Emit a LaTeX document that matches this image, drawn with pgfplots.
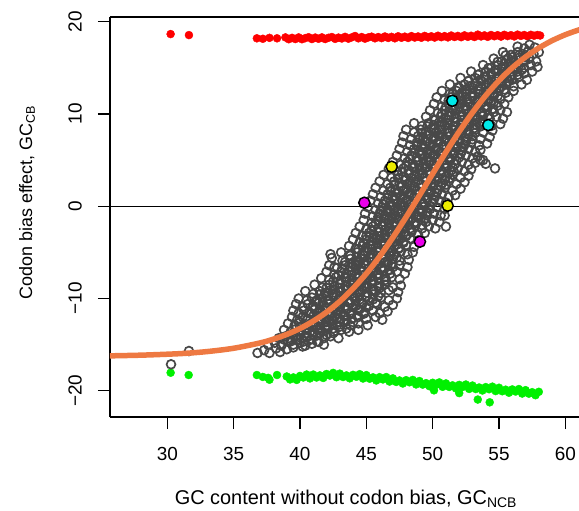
\documentclass[border=0pt]{standalone}
\usepackage{fontspec}
\setmainfont{Liberation Sans}
\usepackage{pgfplots}
\pgfplotsset{compat=1.18}

\definecolor{ptgrey}{RGB}{72,72,72}
\definecolor{curve}{RGB}{238,121,66}
\definecolor{cy}{RGB}{0,232,232}
\definecolor{ye}{RGB}{235,235,0}
\definecolor{ma}{RGB}{235,0,235}
\definecolor{rd}{RGB}{255,0,0}
\definecolor{gr}{RGB}{0,240,0}

\begin{document}
\begin{tikzpicture}
\useasboundingbox (0,0) rectangle (579bp,511bp);
\begin{axis}[
  at={(110bp,94bp)}, anchor=south west,
  scale only axis, width=469bp, height=400bp,
  xmin=25.68, xmax=61.03, ymin=-22.84, ymax=20.51,
  clip marker paths=true,
  separate axis lines,
  axis x line*=box, axis y line*=left,
  axis line style={line width=1.3bp, -},
  tick align=outside, major tick length=12bp,
  xtick pos=bottom, ytick pos=left,
  tick style={line width=1.3bp, black},
  xtick={30,35,40,45,50,55,60},
  xticklabels={30,35,40,45,50,55,60},
  ytick={-20,-10,0,10,20},
  yticklabels={−20,−10,0,10,20},
  tick label style={font=\fontsize{19}{22}\selectfont},
  yticklabel style={xshift=-16bp, rotate=90, anchor=south, inner sep=0pt},
  xticklabel style={yshift=-18bp, anchor=north, inner sep=0pt},
  xlabel={GC content without codon bias, GC\textsubscript{NCB}},
  xlabel style={font=\fontsize{20}{23}\selectfont, at={(axis description cs:0.503,-0.2175)}, anchor=base},
  ylabel={Codon bias effect, GC\textsubscript{CB}},
  ylabel style={font=\fontsize{18}{21}\selectfont, at={(axis description cs:-0.1663,0.536)}, anchor=base},
]
% zero line
\addplot[black, line width=0.9bp] coordinates {(25.68,0) (61.03,0)};

% red band (top)
\addplot[only marks, mark=*, mark size=4bp, color=rd] coordinates {
(30.25,18.66) (31.63,18.55)
(36.75,18.2) (37.2,18.15) (37.7,18.25) (38.27,18.2)
(38.9,18.3) (39.15,18.1) (39.4,18.25) (39.65,18.12) (39.9,18.3) (40.15,18.1) (40.4,18.22) (40.65,18.32)
(40.9,18.12) (41.15,18.28) (41.4,18.15) (41.65,18.3) (41.9,18.12) (42.15,18.26) (42.4,18.34) (42.65,18.14)
(42.9,18.28) (43.15,18.18) (43.4,18.36) (43.65,18.16) (43.9,18.3) (44.15,18.45) (44.4,18.2) (44.65,18.34)
(44.9,18.16) (45.15,18.3) (45.4,18.38) (45.65,18.2) (45.9,18.34) (46.15,18.22) (46.4,18.4) (46.65,18.24)
(46.9,18.36) (47.15,18.2) (47.4,18.42) (47.65,18.26) (47.9,18.38) (48.15,18.24) (48.4,18.44) (48.65,18.28)
(48.9,18.4) (49.15,18.26) (49.4,18.46) (49.65,18.3) (49.9,18.42) (50.15,18.28) (50.4,18.48) (50.65,18.32)
(50.9,18.44) (51.15,18.3) (51.4,18.5) (51.65,18.34) (51.9,18.46) (52.15,18.32) (52.4,18.52) (52.65,18.36)
(52.9,18.48) (53.15,18.34) (53.4,18.6) (53.65,18.4) (53.9,18.52) (54.15,18.36) (54.4,18.56) (54.65,18.42)
(54.9,18.54) (55.15,18.38) (55.4,18.58) (55.65,18.44) (55.9,18.54) (56.15,18.4) (56.4,18.6) (56.65,18.46)
(56.9,18.56) (57.15,18.42) (57.4,18.58) (57.65,18.48) (57.9,18.56) (58.1,18.5)
};

% green band (bottom)
\addplot[only marks, mark=*, mark size=4bp, color=gr] coordinates {
(30.25,-18.04) (31.61,-18.29)
(36.75,-18.29) (37.2,-18.5) (37.6,-18.6) (37.7,-18.8) (38.27,-18.29)
(39.0,-18.45) (39.25,-18.77) (39.5,-18.55) (39.75,-18.82) (40.0,-18.39) (40.25,-18.56) (40.5,-18.24) (40.75,-18.66)
(41.0,-18.24) (41.25,-18.56) (41.5,-18.33) (41.75,-18.61) (42.0,-18.18) (42.25,-18.35) (42.5,-18.06) (42.75,-18.53)
(43.0,-18.14) (43.25,-18.51) (43.5,-18.33) (43.75,-18.65) (44.0,-18.27) (44.25,-18.48) (44.5,-18.2) (44.75,-18.67)
(45.0,-18.3) (45.25,-18.69) (45.5,-18.54) (45.75,-18.88) (46.0,-18.52) (46.25,-18.77) (46.5,-18.51) (46.75,-19.0)
(47.0,-18.65) (47.25,-19.04) (47.5,-18.88) (47.75,-19.21) (48.0,-18.85) (48.25,-19.08) (48.5,-18.82) (48.75,-19.31)
(49.0,-18.94) (49.25,-19.33) (49.5,-19.17) (49.75,-19.5) (50.0,-19.13) (50.25,-19.36) (50.5,-19.09) (50.75,-19.57)
(51.0,-19.2) (51.25,-19.58) (51.5,-19.41) (51.75,-19.74) (52.0,-19.36) (52.25,-19.59) (52.5,-19.32) (52.75,-19.8)
(53.0,-19.43) (53.25,-19.81) (53.5,-19.64) (53.75,-19.97) (54.0,-19.6) (54.25,-19.83) (54.5,-19.55) (54.75,-20.03)
(55.0,-19.67) (55.25,-20.05) (55.5,-19.88) (55.75,-20.21) (56.0,-19.85) (56.25,-20.08) (56.5,-19.81) (56.75,-20.3)
(57.0,-19.93) (57.25,-20.31) (57.5,-20.15) (57.75,-20.48) (58.0,-20.11)
(53.4,-20.95) (54.3,-21.25) (52.0,-20.25) (50.1,-19.95)
};

% grey open circles: outer rows
\addplot[only marks, mark=o, mark size=4.4bp, color=ptgrey, mark options={line width=1.7bp}] coordinates {
(30.28,-17.13) (31.63,-15.69)
(36.8,-15.9) (37.3,-15.6) (37.7,-15.9) (38.2,-15.4) (38.5,-15.8) (39.0,-15.5) (39.5,-15.3) (40.2,-15.2)
(37.6,-15.0) (38.1,-14.8) (38.6,-15.1) (39.1,-14.7) (39.5,-15.0) (40.0,-14.8) (40.4,-15.1) (40.9,-14.9) (41.4,-14.7) (41.8,-15.0)
(38.4,-14.3) (38.9,-14.1) (39.3,-14.4) (39.7,-14.0) (40.1,-14.3) (40.5,-14.1) (40.9,-14.4) (41.3,-14.0) (41.8,-14.3) (42.3,-14.1) (42.9,-14.3)
(38.8,-13.4) (39.3,-13.6) (39.7,-13.3) (40.1,-13.6) (40.5,-13.4) (40.9,-13.7) (41.3,-13.4) (41.7,-13.6) (42.1,-13.3) (42.6,-13.6) (43.1,-13.4) (43.7,-13.6) (44.4,-13.4)
(39.1,-12.7) (39.6,-12.9) (40.0,-12.6) (40.4,-12.9) (40.8,-12.7) (41.2,-12.9) (41.6,-12.6) (42.0,-12.9) (42.4,-12.7) (42.8,-12.9) (43.3,-12.6) (43.8,-12.9) (44.4,-12.7) (45.1,-12.9)
(39.4,-12.0) (39.8,-12.3) (40.2,-12.0) (40.6,-12.2) (41.0,-11.9) (41.4,-12.2) (41.8,-12.0) (42.2,-12.3) (42.6,-12.0) (43.0,-12.2) (43.4,-11.9) (43.9,-12.2) (44.4,-12.0) (45.0,-12.2) (45.7,-12.0) (46.2,-12.3)
(39.5,-11.3) (39.9,-11.6) (40.3,-11.3) (40.7,-11.5) (41.1,-11.2) (41.5,-11.5) (41.9,-11.3) (42.3,-11.6) (42.7,-11.3) (43.1,-11.5) (43.5,-11.2) (43.9,-11.5) (44.4,-11.3) (44.9,-11.5) (45.5,-11.3) (46.0,-11.6) (46.6,-11.4)
(39.7,-10.6) (40.2,-10.9) (40.6,-10.6) (41.0,-10.8) (41.4,-10.5) (41.8,-10.8) (42.2,-10.6) (42.6,-10.9) (43.0,-10.6) (43.4,-10.8) (43.8,-10.5) (44.2,-10.8) (44.7,-10.6) (45.2,-10.8) (45.8,-10.6) (46.4,-10.9) (47.0,-10.7)
(39.9,-10.0) (40.5,-10.2) (40.9,-9.9) (41.3,-10.2) (41.7,-9.9) (42.1,-10.1) (42.5,-9.8) (42.9,-10.1) (43.3,-9.9) (43.7,-10.2) (44.1,-9.9) (44.5,-10.1) (45.0,-9.8) (45.5,-10.1) (46.1,-9.9) (46.7,-10.2) (47.3,-10.0)
(40.4,-9.2) (41.0,-9.5) (41.5,-9.2) (41.9,-9.4) (42.3,-9.1) (42.7,-9.4) (43.1,-9.2) (43.5,-9.5) (43.9,-9.2) (44.3,-9.4) (44.7,-9.1) (45.1,-9.4) (45.6,-9.2) (46.1,-9.4) (46.7,-9.1) (47.4,-9.3)
(41.1,-8.5) (41.7,-8.8) (42.2,-8.5) (42.6,-8.7) (43.0,-8.4) (43.4,-8.7) (43.8,-8.5) (44.2,-8.8) (44.6,-8.5) (45.0,-8.7) (45.4,-8.4) (45.9,-8.7) (46.4,-8.5) (47.0,-8.8) (47.6,-8.6)
(41.6,-7.8) (42.2,-8.0) (42.7,-7.7) (43.1,-8.0) (43.5,-7.8) (43.9,-8.1) (44.3,-7.8) (44.7,-8.0) (45.1,-7.7) (45.5,-8.0) (45.9,-7.8) (46.4,-8.0) (46.9,-7.7) (47.5,-7.9)
(42.0,-7.1) (42.6,-7.4) (43.1,-7.1) (43.5,-7.3) (43.9,-7.0) (44.3,-7.3) (44.7,-7.1) (45.1,-7.4) (45.5,-7.1) (45.9,-7.3) (46.3,-7.0) (46.8,-7.3) (47.3,-7.1) (47.9,-7.3)
(42.2,-6.4) (42.8,-6.7) (43.4,-6.4) (43.8,-6.6) (44.2,-6.3) (44.6,-6.6) (45.0,-6.4) (45.4,-6.7) (45.8,-6.4) (46.2,-6.6) (46.6,-6.3) (47.0,-6.6) (47.5,-6.4) (48.1,-6.6)
(42.4,-5.6) (43.2,-5.9) (43.8,-5.7) (44.2,-6.0) (44.6,-5.7) (45.0,-5.9) (45.4,-5.6) (45.8,-5.9) (46.2,-5.7) (46.6,-6.0) (47.0,-5.7) (47.5,-5.9) (48.2,-5.8)
(42.3,-5.2) (42.6,-6.6)
(43.1,-5.0) (43.7,-5.3) (44.3,-5.0) (44.7,-5.2) (45.1,-4.9) (45.5,-5.2) (45.9,-5.0) (46.3,-5.3) (46.7,-5.0) (47.1,-5.2) (47.6,-4.9) (48.1,-5.2) (48.5,-5.0)
(43.7,-4.3) (44.2,-4.6) (44.7,-4.3) (45.1,-4.5) (45.5,-4.2) (45.9,-4.5) (46.3,-4.3) (46.7,-4.6) (47.1,-4.3) (47.5,-4.5) (48.0,-4.2) (48.6,-4.4)
(44.0,-3.6) (44.5,-3.9) (45.0,-3.6) (45.4,-3.8) (45.8,-3.5) (46.2,-3.8) (46.6,-3.6) (47.0,-3.9) (47.4,-3.6) (47.8,-3.8) (48.3,-3.5) (48.9,-3.7)
(44.2,-2.9) (44.7,-3.2) (45.2,-2.9) (45.6,-3.1) (46.0,-2.8) (46.4,-3.1) (46.8,-2.9) (47.2,-3.2) (47.6,-2.9) (48.0,-3.1) (48.4,-2.8) (48.9,-3.1) (49.4,-2.9)
(44.5,-2.2) (45.0,-2.5) (45.5,-2.2) (45.9,-2.4) (46.3,-2.1) (46.7,-2.4) (47.1,-2.2) (47.5,-2.5) (47.9,-2.2) (48.3,-2.4) (48.7,-2.1) (49.2,-2.4) (49.7,-2.2) (50.2,-2.4)
(51.0,-2.2) (50.9,-1.0)
(44.8,-1.5) (45.4,-1.8) (45.9,-1.5) (46.3,-1.7) (46.7,-1.4) (47.1,-1.7) (47.5,-1.5) (47.9,-1.8) (48.3,-1.5) (48.7,-1.7) (49.1,-1.4) (49.5,-1.7) (50.0,-1.5) (50.5,-1.7)
(44.9,-0.8) (45.5,-1.1) (46.0,-0.8) (46.4,-1.0) (46.8,-0.7) (47.2,-1.0) (47.6,-0.8) (48.0,-1.1) (48.4,-0.8) (48.8,-1.0) (49.2,-0.7) (49.6,-1.0) (50.1,-0.8) (50.6,-1.0)
(45.1,-0.1) (45.7,-0.4) (46.2,-0.1) (46.6,-0.3) (47.0,0.0) (47.4,-0.3) (47.8,-0.1) (48.2,-0.4) (48.6,-0.1) (49.0,-0.3) (49.4,0.0) (49.8,-0.3) (50.3,-0.1) (50.9,-0.3)
(45.3,0.6) (45.9,0.3) (46.4,0.6) (46.8,0.4) (47.2,0.7) (47.6,0.4) (48.0,0.6) (48.4,0.3) (48.8,0.6) (49.2,0.4) (49.6,0.7) (50.0,0.4) (50.5,0.6) (51.0,0.4)
(45.5,1.3) (46.1,1.0) (46.6,1.3) (47.0,1.1) (47.4,1.4) (47.8,1.1) (48.2,1.3) (48.6,1.0) (49.0,1.3) (49.4,1.1) (49.8,1.4) (50.2,1.1) (50.7,1.3) (51.2,1.0) (51.7,1.2)
(45.7,2.0) (46.3,1.7) (46.8,2.0) (47.2,1.8) (47.6,2.1) (48.0,1.8) (48.4,2.0) (48.8,1.7) (49.2,2.0) (49.6,1.8) (50.0,2.1) (50.4,1.8) (50.9,2.0) (51.5,1.7) (52.1,1.9)
(46.0,2.7) (46.6,2.4) (47.1,2.7) (47.5,2.5) (47.9,2.8) (48.3,2.5) (48.7,2.7) (49.1,2.4) (49.5,2.7) (49.9,2.5) (50.3,2.8) (50.7,2.5) (51.2,2.7) (51.8,2.4) (52.4,2.6)
(46.3,3.4) (46.9,3.1) (47.4,3.4) (47.8,3.2) (48.2,3.5) (48.6,3.2) (49.0,3.4) (49.4,3.1) (49.8,3.4) (50.2,3.2) (50.6,3.5) (51.0,3.2) (51.5,3.4) (52.1,3.1) (52.7,3.3)
(46.7,4.1) (47.3,3.8) (47.8,4.1) (48.2,3.9) (48.6,4.2) (49.0,3.9) (49.4,4.1) (49.8,3.8) (50.2,4.1) (50.6,3.9) (51.0,4.2) (51.4,3.9) (51.9,4.1) (52.4,3.8) (52.9,4.0)
(53.6,5.0) (54.0,4.6) (54.7,4.1) (53.8,5.0)
(47.0,4.8) (47.6,4.5) (48.1,4.8) (48.5,4.6) (48.9,4.9) (49.3,4.6) (49.7,4.8) (50.1,4.5) (50.5,4.8) (50.9,4.6) (51.3,4.9) (51.7,4.6) (52.2,4.8) (52.7,4.5) (53.2,4.7)
(47.3,5.5) (47.9,5.2) (48.4,5.5) (48.8,5.3) (49.2,5.6) (49.6,5.3) (50.0,5.5) (50.4,5.2) (50.8,5.5) (51.2,5.3) (51.6,5.6) (52.0,5.3) (52.5,5.5) (53.0,5.2) (53.4,5.4)
(47.5,6.2) (48.1,5.9) (48.6,6.2) (49.0,6.0) (49.4,6.3) (49.8,6.0) (50.2,6.2) (50.6,5.9) (51.0,6.2) (51.4,6.0) (51.8,6.3) (52.2,6.0) (52.7,6.2) (53.2,5.9) (53.6,6.1)
(47.7,6.9) (48.3,6.6) (48.8,6.9) (49.2,6.7) (49.6,7.0) (50.0,6.7) (50.4,6.9) (50.8,6.6) (51.2,6.9) (51.6,6.7) (52.0,7.0) (52.4,6.7) (52.9,6.9) (53.5,6.6) (54.1,6.8)
(47.8,7.6) (48.4,7.3) (48.9,7.6) (49.3,7.4) (49.7,7.7) (50.1,7.4) (50.5,7.6) (50.9,7.3) (51.3,7.6) (51.7,7.4) (52.1,7.7) (52.5,7.4) (53.0,7.6) (53.6,7.3) (54.3,7.5)
(48.0,8.3) (48.6,8.0) (49.1,8.3) (49.5,8.1) (49.9,8.4) (50.3,8.1) (50.7,8.3) (51.1,8.0) (51.5,8.3) (51.9,8.1) (52.3,8.4) (52.7,8.1) (53.2,8.3) (53.8,8.0) (54.5,8.2)
(48.6,9.0) (49.2,8.7) (49.7,9.0) (50.1,8.8) (50.5,9.1) (50.9,8.8) (51.3,9.0) (51.7,8.7) (52.1,9.0) (52.5,8.8) (52.9,9.1) (53.3,8.8) (53.8,9.0) (54.4,8.7) (55.1,8.9)
(49.5,9.7) (50.1,9.4) (50.6,9.7) (51.0,9.5) (51.4,9.8) (51.8,9.5) (52.2,9.7) (52.6,9.4) (53.0,9.7) (53.4,9.5) (53.8,9.8) (54.3,9.5) (54.8,9.7) (55.3,9.5)
(49.8,10.4) (50.4,10.1) (50.9,10.4) (51.3,10.2) (51.7,10.5) (52.1,10.2) (52.5,10.4) (52.9,10.1) (53.3,10.4) (53.7,10.2) (54.1,10.5) (54.6,10.2) (55.1,10.4) (55.6,10.2)
(50.1,11.1) (50.7,10.8) (51.2,11.1) (51.6,10.9) (52.0,11.2) (52.4,10.9) (52.8,11.1) (53.2,10.8) (53.6,11.1) (54.0,10.9) (54.4,11.2) (54.9,10.9) (55.4,11.1)
(50.3,11.8) (50.9,11.5) (51.4,11.8) (51.8,11.6) (52.2,11.9) (52.6,11.6) (53.0,11.8) (53.4,11.5) (53.8,11.8) (54.2,11.6) (54.6,11.9) (55.1,11.6) (55.7,11.8)
(50.7,12.5) (51.3,12.2) (51.8,12.5) (52.2,12.3) (52.6,12.6) (53.0,12.3) (53.4,12.5) (53.8,12.2) (54.2,12.5) (54.6,12.3) (55.0,12.6) (55.5,12.3) (56.1,12.5)
(51.3,13.2) (51.9,12.9) (52.4,13.2) (52.8,13.0) (53.2,13.3) (53.6,13.0) (54.0,13.2) (54.4,12.9) (54.8,13.2) (55.2,13.0) (55.6,13.3) (56.1,13.0) (56.7,13.2)
(52.1,13.9) (52.7,13.6) (53.2,13.9) (53.6,13.7) (54.0,14.0) (54.4,13.7) (54.8,13.9) (55.2,13.6) (55.6,13.9) (56.0,13.7) (56.5,14.0) (57.1,13.7)
(52.9,14.6) (53.5,14.3) (54.0,14.6) (54.4,14.4) (54.8,14.7) (55.2,14.4) (55.6,14.6) (56.0,14.3) (56.4,14.6) (56.9,14.4) (57.5,14.6)
(53.8,15.3) (54.4,15.0) (54.9,15.3) (55.3,15.1) (55.7,15.4) (56.1,15.1) (56.5,15.3) (56.9,15.0) (57.4,15.3) (57.9,15.1)
(54.6,16.0) (55.2,15.7) (55.7,16.0) (56.1,15.8) (56.5,16.1) (56.9,15.8) (57.3,16.0) (57.8,15.7)
(55.3,16.7) (55.9,16.4) (56.4,16.7) (56.8,16.5) (57.2,16.8) (57.6,16.5) (58.0,16.7)
(56.4,17.3) (56.9,17.1) (57.3,17.5) (57.7,17.2)
};

% grey open circles: dense core
\addplot[only marks, mark=o, mark size=4.4bp, color=ptgrey, mark options={line width=1.7bp}] coordinates {
(38.8,-14.45) (39.3,-14.65) (39.8,-14.45) (40.3,-14.65) (40.8,-14.45) (41.3,-14.65)
(39.5,-13.75) (40.0,-13.95) (40.5,-13.75) (41.0,-13.95) (41.5,-13.75) (42.0,-13.95) (42.5,-13.75)
(40.0,-13.05) (40.5,-13.25) (41.0,-13.05) (41.5,-13.25) (42.0,-13.05) (42.5,-13.25) (43.0,-13.05) (43.5,-13.25)
(40.5,-12.35) (41.0,-12.55) (41.5,-12.35) (42.0,-12.55) (42.5,-12.35) (43.0,-12.55) (43.5,-12.35) (44.0,-12.55)
(40.8,-11.65) (41.3,-11.85) (41.8,-11.65) (42.3,-11.85) (42.8,-11.65) (43.3,-11.85) (43.8,-11.65) (44.3,-11.85) (44.8,-11.65)
(41.0,-10.95) (41.5,-11.15) (42.0,-10.95) (42.5,-11.15) (43.0,-10.95) (43.5,-11.15) (44.0,-10.95) (44.5,-11.15) (45.0,-10.95)
(41.2,-10.25) (41.7,-10.45) (42.2,-10.25) (42.7,-10.45) (43.2,-10.25) (43.7,-10.45) (44.2,-10.25) (44.7,-10.45) (45.2,-10.25) (45.7,-10.45)
(41.5,-9.55) (42.0,-9.75) (42.5,-9.55) (43.0,-9.75) (43.5,-9.55) (44.0,-9.75) (44.5,-9.55) (45.0,-9.75) (45.5,-9.55) (45.9,-9.75)
(42.0,-8.85) (42.5,-9.05) (43.0,-8.85) (43.5,-9.05) (44.0,-8.85) (44.5,-9.05) (45.0,-8.85) (45.5,-9.05) (46.0,-8.85)
(42.5,-8.15) (43.0,-8.35) (43.5,-8.15) (44.0,-8.35) (44.5,-8.15) (45.0,-8.35) (45.5,-8.15) (46.0,-8.35) (46.5,-8.15)
(42.9,-7.45) (43.4,-7.65) (43.9,-7.45) (44.4,-7.65) (44.9,-7.45) (45.4,-7.65) (45.9,-7.45) (46.4,-7.65)
(43.2,-6.75) (43.7,-6.95) (44.2,-6.75) (44.7,-6.95) (45.2,-6.75) (45.7,-6.95) (46.2,-6.75) (46.7,-6.95)
(43.4,-6.05) (43.9,-6.25) (44.4,-6.05) (44.9,-6.25) (45.4,-6.05) (45.9,-6.25) (46.4,-6.05) (46.9,-6.25)
(43.8,-5.35) (44.3,-5.55) (44.8,-5.35) (45.3,-5.55) (45.8,-5.35) (46.3,-5.55) (46.8,-5.35) (47.3,-5.55)
(44.4,-4.65) (44.9,-4.85) (45.4,-4.65) (45.9,-4.85) (46.4,-4.65) (46.9,-4.85) (47.4,-4.65)
(44.8,-3.95) (45.3,-4.15) (45.8,-3.95) (46.3,-4.15) (46.8,-3.95) (47.3,-4.15) (47.8,-3.95)
(45.0,-3.25) (45.5,-3.45) (46.0,-3.25) (46.5,-3.45) (47.0,-3.25) (47.5,-3.45) (48.0,-3.25)
(45.4,-2.55) (45.9,-2.75) (46.4,-2.55) (46.9,-2.75) (47.4,-2.55) (47.9,-2.75) (48.4,-2.55)
(45.7,-1.85) (46.2,-2.05) (46.7,-1.85) (47.2,-2.05) (47.7,-1.85) (48.2,-2.05) (48.7,-1.85) (49.2,-2.05)
(45.9,-1.15) (46.4,-1.35) (46.9,-1.15) (47.4,-1.35) (47.9,-1.15) (48.4,-1.35) (48.9,-1.15) (49.4,-1.35)
(46.1,-0.45) (46.6,-0.65) (47.1,-0.45) (47.6,-0.65) (48.1,-0.45) (48.6,-0.65) (49.1,-0.45) (49.6,-0.65)
(46.3,0.25) (46.8,0.05) (47.3,0.25) (47.8,0.05) (48.3,0.25) (48.8,0.05) (49.3,0.25) (49.8,0.05)
(46.6,0.95) (47.1,0.75) (47.6,0.95) (48.1,0.75) (48.6,0.95) (49.1,0.75) (49.6,0.95) (50.1,0.75)
(46.8,1.65) (47.3,1.45) (47.8,1.65) (48.3,1.45) (48.8,1.65) (49.3,1.45) (49.8,1.65) (50.3,1.45)
(47.1,2.35) (47.6,2.15) (48.1,2.35) (48.6,2.15) (49.1,2.35) (49.6,2.15) (50.1,2.35) (50.6,2.15) (51.0,2.35)
(47.4,3.05) (47.9,2.85) (48.4,3.05) (48.9,2.85) (49.4,3.05) (49.9,2.85) (50.4,3.05) (50.9,2.85) (51.3,3.05)
(47.7,3.75) (48.2,3.55) (48.7,3.75) (49.2,3.55) (49.7,3.75) (50.2,3.55) (50.7,3.75) (51.2,3.55) (51.6,3.75)
(48.0,4.45) (48.5,4.25) (49.0,4.45) (49.5,4.25) (50.0,4.45) (50.5,4.25) (51.0,4.45) (51.5,4.25)
(48.3,5.15) (48.8,4.95) (49.3,5.15) (49.8,4.95) (50.3,5.15) (50.8,4.95) (51.3,5.15) (51.8,4.95)
(48.6,5.85) (49.1,5.65) (49.6,5.85) (50.1,5.65) (50.6,5.85) (51.1,5.65) (51.6,5.85) (52.1,5.65)
(48.8,6.55) (49.3,6.35) (49.8,6.55) (50.3,6.35) (50.8,6.55) (51.3,6.35) (51.8,6.55) (52.3,6.35)
(49.0,7.25) (49.5,7.05) (50.0,7.25) (50.5,7.05) (51.0,7.25) (51.5,7.05) (52.0,7.25) (52.5,7.05) (53.0,7.25)
(49.2,7.95) (49.7,7.75) (50.2,7.95) (50.7,7.75) (51.2,7.95) (51.7,7.75) (52.2,7.95) (52.7,7.75) (53.2,7.95)
(49.6,8.65) (50.1,8.45) (50.6,8.65) (51.1,8.45) (51.6,8.65) (52.1,8.45) (52.6,8.65) (53.1,8.45) (53.6,8.65)
(50.2,9.35) (50.7,9.15) (51.2,9.35) (51.7,9.15) (52.2,9.35) (52.7,9.15) (53.2,9.35) (53.7,9.15)
(50.7,10.05) (51.2,9.85) (51.7,10.05) (52.2,9.85) (52.7,10.05) (53.2,9.85) (53.7,10.05) (54.2,9.85)
(51.0,10.75) (51.5,10.55) (52.0,10.75) (52.5,10.55) (53.0,10.75) (53.5,10.55) (54.0,10.75) (54.5,10.55)
(51.2,11.45) (51.7,11.25) (52.2,11.45) (52.7,11.25) (53.2,11.45) (53.7,11.25) (54.2,11.45) (54.6,11.25)
(51.5,12.15) (52.0,11.95) (52.5,12.15) (53.0,11.95) (53.5,12.15) (54.0,11.95) (54.5,12.15) (54.9,11.95)
(52.0,12.85) (52.5,12.65) (53.0,12.85) (53.5,12.65) (54.0,12.85) (54.5,12.65) (55.0,12.85) (55.4,12.65)
(52.7,13.55) (53.2,13.35) (53.7,13.55) (54.2,13.35) (54.7,13.55) (55.2,13.35) (55.7,13.55)
(53.4,14.25) (53.9,14.05) (54.4,14.25) (54.9,14.05) (55.4,14.25) (55.9,14.05) (56.4,14.25)
(54.2,14.95) (54.7,14.75) (55.2,14.95) (55.7,14.75) (56.2,14.95) (56.7,14.75)
(54.9,15.65) (55.4,15.45) (55.9,15.65) (56.4,15.45) (56.9,15.65)
(55.5,16.35) (56.0,16.15) (56.5,16.35) (57.0,16.15)
};

% fitted curve
\addplot[color=curve, line width=5.5bp, smooth] coordinates {
(25,-16.23) (28,-16.14) (31,-15.97) (33,-15.75) (35,-15.39) (37,-14.81) (38,-14.40) (39,-13.89)
(40,-13.25) (41,-12.45) (42,-11.48) (43,-10.31) (44,-8.91) (45,-7.30) (46,-5.45) (47,-3.39)
(48,-1.17) (49,1.16) (50,3.53) (51,5.87) (52,8.09) (53,10.15) (54,12.00) (55,13.62)
(56,15.01) (57,16.18) (58,17.15) (59,17.95) (60,18.59) (61,19.10) (62,19.51)
};

% highlighted points
\addplot[only marks, mark=*, mark size=5.6bp, mark options={draw=black, fill=cy, line width=1.5bp}] coordinates {
(51.48,11.43) (54.19,8.8)
};
\addplot[only marks, mark=*, mark size=5.6bp, mark options={draw=black, fill=ye, line width=1.5bp}] coordinates {
(46.91,4.28) (51.13,0.06)
};
\addplot[only marks, mark=*, mark size=5.6bp, mark options={draw=black, fill=ma, line width=1.5bp}] coordinates {
(44.85,0.38) (49.04,-3.84)
};
\end{axis}
\end{tikzpicture}
\end{document}
